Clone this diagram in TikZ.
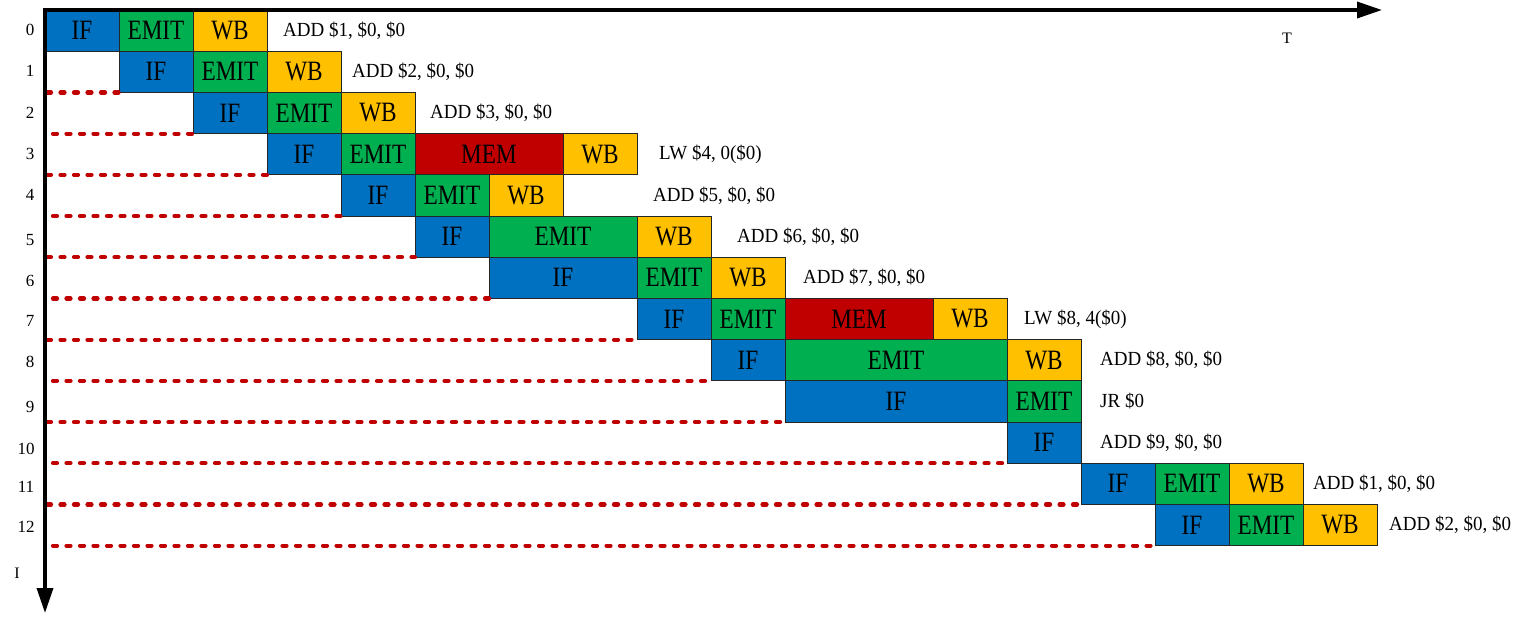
\documentclass[tikz,border=0pt]{standalone}
\usepackage{fontspec}
\setmainfont{Liberation Serif}
\newfontfamily\stgfont[FakeStretch=0.83]{Liberation Serif}
\newfontfamily\lblfont[FakeStretch=0.95]{Liberation Serif}
\usetikzlibrary{arrows.meta}
\definecolor{ifblue}{HTML}{0070C0}
\definecolor{emitgreen}{HTML}{00B050}
\definecolor{wbyellow}{HTML}{FFC000}
\definecolor{memred}{HTML}{C00000}
\definecolor{dashred}{HTML}{C00000}
\tikzset{
  stagebox/.style={draw=black!85, line width=0.9pt, inner sep=0pt, outer sep=0pt,
    anchor=north west, minimum height=41.2pt, text=black,
    font=\stgfont\fontsize{28}{28}\selectfont},
  ifst/.style={stagebox, fill=ifblue},
  emitst/.style={stagebox, fill=emitgreen},
  wbst/.style={stagebox, fill=wbyellow},
  memst/.style={stagebox, fill=memred},
  instr/.style={anchor=west, inner sep=0pt, font=\lblfont\fontsize{20}{20}\selectfont},
  rownum/.style={inner sep=0pt, font=\fontsize{17}{17}\selectfont},
  axislabel/.style={inner sep=0pt, font=\fontsize{16}{16}\selectfont},
  axisline/.style={line width=3.5pt, -{Triangle[length=25pt,width=16pt]}},
  guide/.style={draw=dashred, line width=4.2pt, line cap=round, dash pattern=on 4pt off 9.5pt}
}
\newcommand\stg[6]{\node[#5, minimum width={#4*74pt}] (#1) at ({45+74*#3},{10+41.2*#2}) {#6};}
\newcommand\instrlabel[4]{\node[instr] (#1) at (#3,{10+41.2*(#2+0.5)}) {#4};}
\begin{document}
\begin{tikzpicture}[x=1pt,y=-1pt]
\useasboundingbox (0,0) rectangle (1522,616);
% row 0
\stg{r0if}{0}{0}{1}{ifst}{IF}
\stg{r0emit}{0}{1}{1}{emitst}{EMIT}
\stg{r0wb}{0}{2}{1}{wbst}{WB}
\instrlabel{l0}{0}{283}{ADD \$1, \$0, \$0}
% row 1
\stg{r1if}{1}{1}{1}{ifst}{IF}
\stg{r1emit}{1}{2}{1}{emitst}{EMIT}
\stg{r1wb}{1}{3}{1}{wbst}{WB}
\instrlabel{l1}{1}{352}{ADD \$2, \$0, \$0}
% row 2
\stg{r2if}{2}{2}{1}{ifst}{IF}
\stg{r2emit}{2}{3}{1}{emitst}{EMIT}
\stg{r2wb}{2}{4}{1}{wbst}{WB}
\instrlabel{l2}{2}{430}{ADD \$3, \$0, \$0}
% row 3
\stg{r3if}{3}{3}{1}{ifst}{IF}
\stg{r3emit}{3}{4}{1}{emitst}{EMIT}
\stg{r3mem}{3}{5}{2}{memst}{MEM}
\stg{r3wb}{3}{7}{1}{wbst}{WB}
\instrlabel{l3}{3}{659}{LW \$4, 0(\$0)}
% row 4
\stg{r4if}{4}{4}{1}{ifst}{IF}
\stg{r4emit}{4}{5}{1}{emitst}{EMIT}
\stg{r4wb}{4}{6}{1}{wbst}{WB}
\instrlabel{l4}{4}{653}{ADD \$5, \$0, \$0}
% row 5
\stg{r5if}{5}{5}{1}{ifst}{IF}
\stg{r5emit}{5}{6}{2}{emitst}{EMIT}
\stg{r5wb}{5}{8}{1}{wbst}{WB}
\instrlabel{l5}{5}{737}{ADD \$6, \$0, \$0}
% row 6
\stg{r6if}{6}{6}{2}{ifst}{IF}
\stg{r6emit}{6}{8}{1}{emitst}{EMIT}
\stg{r6wb}{6}{9}{1}{wbst}{WB}
\instrlabel{l6}{6}{803}{ADD \$7, \$0, \$0}
% row 7
\stg{r7if}{7}{8}{1}{ifst}{IF}
\stg{r7emit}{7}{9}{1}{emitst}{EMIT}
\stg{r7mem}{7}{10}{2}{memst}{MEM}
\stg{r7wb}{7}{12}{1}{wbst}{WB}
\instrlabel{l7}{7}{1024}{LW \$8, 4(\$0)}
% row 8
\stg{r8if}{8}{9}{1}{ifst}{IF}
\stg{r8emit}{8}{10}{3}{emitst}{EMIT}
\stg{r8wb}{8}{13}{1}{wbst}{WB}
\instrlabel{l8}{8}{1100}{ADD \$8, \$0, \$0}
% row 9
\stg{r9if}{9}{10}{3}{ifst}{IF}
\stg{r9emit}{9}{13}{1}{emitst}{EMIT}
\instrlabel{l9}{9}{1100}{JR \$0}
% row 10
\stg{r10if}{10}{13}{1}{ifst}{IF}
\instrlabel{l10}{10}{1100}{ADD \$9, \$0, \$0}
% row 11
\stg{r11if}{11}{14}{1}{ifst}{IF}
\stg{r11emit}{11}{15}{1}{emitst}{EMIT}
\stg{r11wb}{11}{16}{1}{wbst}{WB}
\instrlabel{l11}{11}{1313}{ADD \$1, \$0, \$0}
% row 12
\stg{r12if}{12}{15}{1}{ifst}{IF}
\stg{r12emit}{12}{16}{1}{emitst}{EMIT}
\stg{r12wb}{12}{17}{1}{wbst}{WB}
\instrlabel{l12}{12}{1389}{ADD \$2, \$0, \$0}
% guide lines
\coordinate (gA) at (47,0);
\coordinate (gB) at (53,0);
\foreach \r/\g in {1/gA,2/gB,3/gA,4/gB,5/gA,6/gB,7/gA,8/gB,9/gA,10/gB,11/gA,12/gB}{
  \draw[guide] (r\r if.south west -| \g) -- (r\r if.south west);
}
% row numbers
\foreach \n/\x/\y in {0/30/30,1/30/71,2/30/113,3/30/154,4/30/195,5/30/240,6/30/281,7/30/321,8/30/362,9/30/407,10/26/449,11/26/487,12/26/527}{
  \node[rownum] (n\n) at (\x,\y) {\n};
}
% axes
\coordinate (O) at (45,10);
\coordinate (Tend) at (1382,10);
\coordinate (Iend) at (45,613);
\draw[axisline] ([xshift=-1.75pt]O) -- (Tend);
\draw[axisline] ([yshift=1.75pt]O) -- (Iend);
\node[axislabel] (Tlab) at (1287,38) {T};
\node[axislabel] (Ilab) at (17,573) {I};
\end{tikzpicture}
\end{document}
